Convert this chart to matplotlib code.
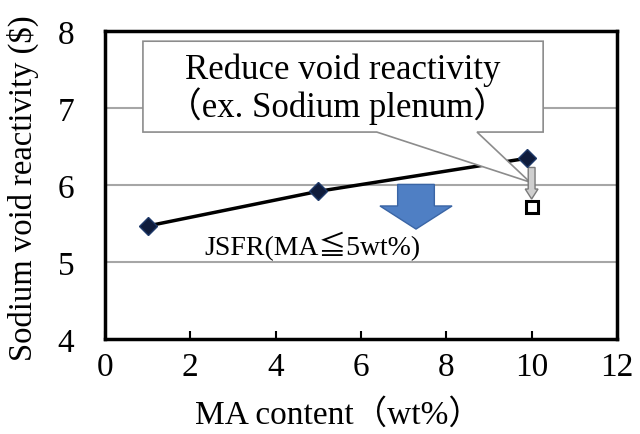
import numpy as np
import matplotlib
matplotlib.use('Agg')
import matplotlib.pyplot as plt
from matplotlib.patches import Polygon, FancyArrow

plt.rcParams['font.family'] = ['Liberation Serif', 'Noto Sans CJK JP', 'DejaVu Sans']

# data
ma_content = [1, 5, 9.9]
void_reactivity = [5.47, 5.92, 6.35]
reduced_content = [10.0]
reduced_void = [5.72]

xticks = [0, 2, 4, 6, 8, 10, 12]
yticks = [4, 5, 6, 7, 8]

fig = plt.figure(figsize=(6.4, 4.35), dpi=100)
ax = fig.add_axes([0.164, 0.218, 0.8, 0.708])

ax.set_xlim(0, 12)
ax.set_ylim(4, 8)
ax.set_xticks(xticks)
ax.set_yticks(yticks)

# gridlines (only at inner y ticks)
for yv in yticks[1:-1]:
    ax.axhline(yv, color='#a6a6a6', lw=1.5, zorder=0.5)

# main line with diamonds
ax.plot(ma_content, void_reactivity, color='black', lw=2.5, zorder=2)
ax.plot(ma_content, void_reactivity, ls='none', marker='D', ms=9,
        mfc='#0f1c3c', mec='#1f3a6a', mew=1, zorder=5)

# reduced point
ax.plot(reduced_content, reduced_void, ls='none', marker='s', ms=9,
        mfc='white', mec='black', mew=2.2, zorder=5)

# callout box with pointer
callout = Polygon([(0.89, 7.87), (10.27, 7.87), (10.27, 6.69), (8.72, 6.69),
                   (9.96, 6.04), (6.37, 6.69), (0.89, 6.69)],
                  closed=True, fc='white', ec='#8c8c8c', lw=1.2, zorder=3)
ax.add_patch(callout)
ax.text(5.58, 7.51, 'Reduce void reactivity', ha='center', va='center',
        fontsize=25, zorder=4)
ax.text(5.45, 7.04, '（ex. Sodium plenum）', ha='center', va='center',
        fontsize=25, zorder=4)

# big blue arrow
ax.add_patch(FancyArrow(7.29, 6.01, 0, -0.58, width=0.86, head_width=1.69,
                        head_length=0.30, length_includes_head=True,
                        fc='#4f7fc4', ec='#3a65a5', lw=1, zorder=4))

# small gray arrow
ax.add_patch(FancyArrow(10.0, 6.23, 0, -0.41, width=0.16, head_width=0.30,
                        head_length=0.13, length_includes_head=True,
                        fc='#cfcfcf', ec='#7a7a7a', lw=1, zorder=4))

ax.text(2.34, 5.21, 'JSFR(MA≦5wt%)', ha='left', va='center', fontsize=20,
        zorder=4)

for s in ax.spines.values():
    s.set_linewidth(2.5)

ax.tick_params(axis='x', direction='in', length=6, width=1.5, pad=9,
               labelsize=24)
ax.tick_params(axis='y', length=0, pad=22, labelsize=24)

ax.set_xlabel('MA content（wt%）', fontsize=24)
ax.set_ylabel('Sodium void reactivity (\\$)', fontsize=23.5)
ax.xaxis.set_label_coords(0.455, -0.19)
ax.yaxis.set_label_coords(-0.128, 0.495)

plt.savefig('out.png', dpi=100)
